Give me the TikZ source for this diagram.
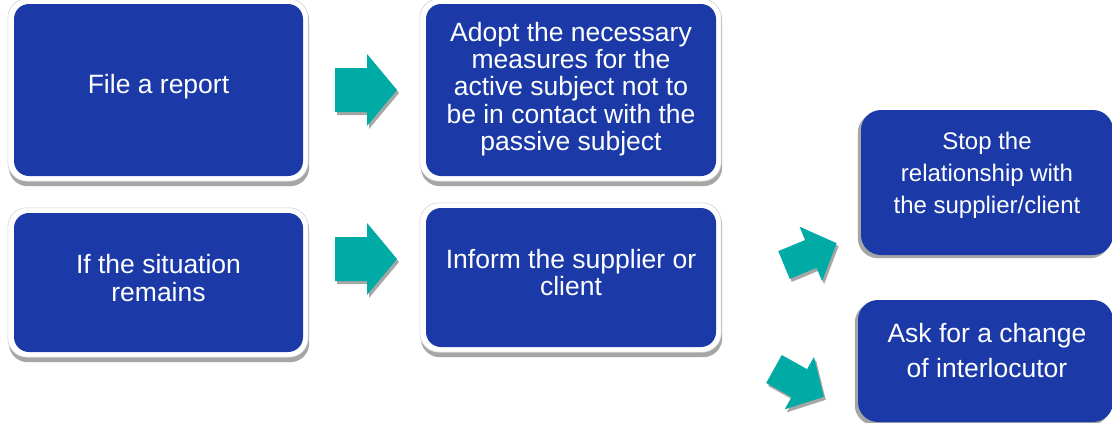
\documentclass[tikz,border=0pt]{standalone}
\usepackage{fontspec}
\setmainfont{Liberation Sans}
\usetikzlibrary{backgrounds}

\definecolor{boxblue}{RGB}{27,58,168}
\definecolor{arrowteal}{RGB}{0,171,166}
\definecolor{shadowgray}{RGB}{166,166,166}

\tikzset{
  bluebox/.style={fill=boxblue, rounded corners=15pt, inner sep=0pt},
  sidebox/.style={fill=boxblue, rounded corners=20pt, inner sep=0pt},
  boxtext/.style={text=white, align=center, inner sep=0pt},
  bigtext/.style={boxtext, font=\fontsize{26.5}{27.2}\selectfont},
  arrowshadow/.style={fill=shadowgray},
  arrowfill/.style={fill=arrowteal},
}

% block arrow: tail centre x, y, angle, length, head length, body half width, head half width
\newcommand\blockarrow[7]{%
  \begin{scope}[shift={({#1+2},{#2+3})}, rotate=#3]
    \fill[arrowshadow] (0,-#6) -- ({#4-#5},-#6) -- ({#4-#5},-#7) -- (#4,0)
      -- ({#4-#5},#7) -- ({#4-#5},#6) -- (0,#6) -- cycle;
  \end{scope}
  \begin{scope}[shift={(#1,#2)}, rotate=#3]
    \fill[arrowfill] (0,-#6) -- ({#4-#5},-#6) -- ({#4-#5},-#7) -- (#4,0)
      -- ({#4-#5},#7) -- ({#4-#5},#6) -- (0,#6) -- cycle;
  \end{scope}}

\begin{document}
\begin{tikzpicture}[x=1pt, y=-1pt]
  \useasboundingbox (0,0) rectangle (1112,423);
  \clip (0,0) rectangle (1112,423);

  % main boxes
  \node[bluebox, minimum width=289pt, minimum height=172pt] (b1) at (158.5,90) {};
  \node[bluebox, minimum width=289pt, minimum height=139pt] (b2) at (158.5,282.5) {};
  \node[bluebox, minimum width=290pt, minimum height=172pt] (b3) at (571,90) {};
  \node[bluebox, minimum width=290pt, minimum height=139pt] (b4) at (571,277.5) {};
  \node[sidebox, minimum width=252pt, minimum height=145pt] (b5) at (987,182.5) {};
  \node[sidebox, minimum width=255pt, minimum height=122pt] (b6) at (985.5,361) {};

  % white frames and drop shadows behind the boxes
  \begin{pgfonlayer}{background}
    \foreach \n in {b1,b2,b3,b4}{
      \fill[shadowgray, rounded corners=19pt]
        ([shift={(-5,-2)}]\n.north west) rectangle ([shift={(6,10)}]\n.south east);
      \filldraw[fill=white, draw=gray!35, line width=0.6pt, rounded corners=19pt]
        ([shift={(-6,-5)}]\n.north west) rectangle ([shift={(5,5)}]\n.south east);
    }
    \foreach \n in {b5,b6}{
      \fill[shadowgray, rounded corners=20pt]
        ([shift={(-3,3)}]\n.north west) rectangle ([shift={(-3,3)}]\n.south east);
    }
  \end{pgfonlayer}

  % texts
  \node[bigtext] (t1) at (158.5,86.2) {File a report};
  \node[boxtext, font=\fontsize{26.5}{28.3}\selectfont] (t2) at (158.5,277.7)
    {If the situation\\remains};
  \node[bigtext] (t3) at (571,89)
    {Adopt the necessary\\measures for the\\active subject not to\\be in contact with the\\passive subject};
  \node[boxtext, font=\fontsize{26.5}{27.3}\selectfont] (t4) at (571,272.2)
    {Inform the supplier or\\client};
  \node[boxtext, font=\fontsize{24}{32}\selectfont] (t5) at (987,175)
    {Stop the\\relationship with\\the supplier/client};
  \node[boxtext, font=\fontsize{26.5}{35}\selectfont] (t6) at (987,350.4)
    {Ask for a change\\of interlocutor};

  % block arrows
  \blockarrow{335}{90}{0}{62}{30}{22}{36}
  \blockarrow{335}{259}{0}{62}{30}{22}{36}
  \blockarrow{784}{265}{22.5}{57}{28}{15}{29.5}
  \blockarrow{774}{369}{-29.2}{57}{28}{16}{30}
\end{tikzpicture}
\end{document}
